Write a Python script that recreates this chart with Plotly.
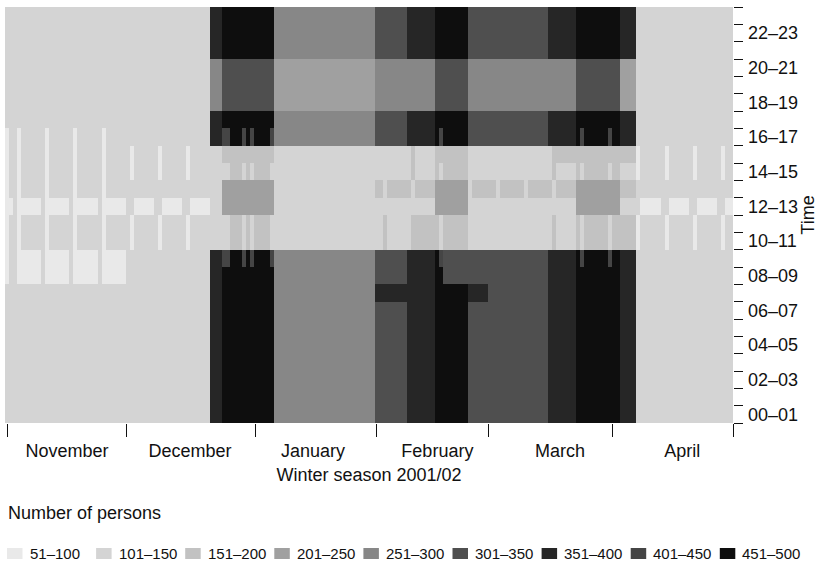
import numpy as np
import plotly.graph_objects as go

N_DAYS = 181
N_HOURS = 24

LEVEL_LABELS = ["51–100", "101–150", "151–200", "201–250", "251–300",
                "301–350", "351–400", "401–450", "451–500"]
LEVEL_COLORS = ["#e9e9e9", "#d4d4d4", "#c2c2c2", "#a0a0a0", "#878787",
                "#4f4f4f", "#262626", "#454545", "#0e0e0e"]
BASE_LEVEL = 2

MONTHS = ["November", "December", "January", "February", "March", "April"]
MONTH_CENTERS = [15.4, 46.0, 76.6, 107.5, 138.0, 168.4]
MONTH_EDGES = [0.5, 30.3, 62.2, 92.3, 120.1, 151.0, 181.0]

HOUR_LABELS = ["00–01", "02–03", "04–05", "06–07", "08–09", "10–11",
               "12–13", "14–15", "16–17", "18–19", "20–21", "22–23"]
HOUR_LABEL_POS = [0.5, 2.5, 4.5, 6.5, 8.5, 10.5, 12.5, 14.5, 16.5, 18.5, 20.5, 22.5]
HOUR_EDGES = list(range(0, 25))

# season periods (day index from 1 Nov 2001, end exclusive)
PERIOD_START = [51, 54, 67, 92, 100, 107, 115, 135, 142, 153]
PERIOD_END = [54, 67, 92, 100, 107, 115, 135, 142, 153, 157]
LEVEL_NIGHT = [7, 9, 5, 6, 7, 9, 6, 7, 9, 7]      # hours 0-9, 16-17, 21-23
LEVEL_EVENING = [5, 6, 4, 5, 5, 6, 5, 5, 6, 4]    # hours 18-20

# extra rectangles: (day0, day1, hour0, hour1, level)
MIDDAY_BLOCKS = [
    (54, 67, 14, 16, 3), (54, 67, 12, 14, 4), (54, 67, 10, 12, 3),
    (107, 115, 14, 16, 3), (107, 115, 12, 14, 4), (107, 115, 10, 12, 3),
    (142, 153, 14, 16, 3), (142, 153, 12, 14, 4), (142, 153, 10, 12, 3),
    (137, 142, 15, 16, 3),
    (153, 157, 15, 16, 3), (153, 157, 13, 14, 3), (153, 157, 10, 12, 3),
    (102, 107, 10, 12, 3),
    (92, 94, 13, 14, 3), (95, 101, 13, 14, 3), (102, 107, 13, 14, 3),
    (116, 122, 13, 14, 3), (123, 129, 13, 14, 3), (130, 136, 13, 14, 3),
    (137, 142, 13, 14, 3),
    (109, 115, 8, 10, 6),
    (92, 107, 7, 8, 7), (115, 120, 7, 8, 7),
]

# weekday blocks outside the season
WEEKDAY_BLOCKS = [
    (1, 2, 12, 13, 1), (4, 9, 12, 13, 1), (11, 16, 12, 13, 1), (18, 23, 12, 13, 1),
    (25, 30, 12, 13, 1), (32, 37, 12, 13, 1), (39, 44, 12, 13, 1), (46, 51, 12, 13, 1),
    (158, 163, 12, 13, 1), (165, 170, 12, 13, 1), (172, 177, 12, 13, 1),
    (179, 181, 12, 13, 1),
    (4, 9, 8, 10, 1), (11, 16, 8, 10, 1), (18, 23, 8, 10, 1), (25, 30, 8, 10, 1),
]

# Sundays / holidays: (day, hour0, hour1, level)
DAY_STRIPES = [
    (0, 8, 17, 1), (3, 8, 17, 1), (10, 8, 17, 1), (17, 8, 17, 1), (24, 8, 17, 1),
    (31, 10, 12, 1), (31, 14, 16, 1), (38, 10, 12, 1), (38, 14, 16, 1),
    (45, 10, 12, 1), (45, 14, 16, 1),
    (157, 10, 12, 1), (157, 14, 16, 1), (164, 10, 12, 1), (164, 14, 16, 1),
    (171, 10, 12, 1), (171, 14, 16, 1), (178, 10, 12, 1), (178, 14, 16, 1),
    (94, 10, 12, 3), (101, 10, 12, 3), (101, 14, 16, 3), (136, 10, 12, 3), (136, 14, 16, 3),
]
HOLIDAY_DAYS = [54, 55, 59, 61, 66, 108, 143, 150]
HOLIDAY_HOURS = [9, 16]
HOLIDAY_HOUR_LEVEL = 8
HOLIDAY_MIDDAY_HOURS = [10, 11, 14]
HOLIDAY_MIDDAY_LEVEL = 2

# ---- build grid ----
z = np.full((N_HOURS, N_DAYS), BASE_LEVEL, dtype=int)
for s, e, ln, le in zip(PERIOD_START, PERIOD_END, LEVEL_NIGHT, LEVEL_EVENING):
    z[0:10, s:e] = ln
    z[16:18, s:e] = ln
    z[21:24, s:e] = ln
    z[18:21, s:e] = le
for d0, d1, h0, h1, lv in MIDDAY_BLOCKS + WEEKDAY_BLOCKS:
    z[h0:h1, d0:d1] = lv
for d, h0, h1, lv in DAY_STRIPES:
    z[h0:h1, d] = lv
for d in HOLIDAY_DAYS:
    for h in HOLIDAY_HOURS:
        z[h, d] = HOLIDAY_HOUR_LEVEL
    for h in HOLIDAY_MIDDAY_HOURS:
        z[h, d] = HOLIDAY_MIDDAY_LEVEL

n = len(LEVEL_COLORS)
colorscale = []
for i, c in enumerate(LEVEL_COLORS):
    colorscale.append([i / n, c])
    colorscale.append([(i + 1) / n, c])

FONT = "Liberation Sans, Arial, Helvetica, sans-serif"

# layout geometry (pixels)
W, H = 825, 564
ML, MR, MT, MB = 5, 92, 7, 141
PW, PH = W - ML - MR, H - MT - MB


def px_x(px):
    return (px - ML) / PW


def px_y(py):
    return (H - MB - py) / PH


fig = go.Figure()
fig.add_trace(go.Heatmap(
    z=z, x=np.arange(N_DAYS) + 0.5, y=np.arange(N_HOURS) + 0.5,
    colorscale=colorscale, zmin=0.5, zmax=n + 0.5, showscale=False,
    hoverinfo="skip", showlegend=False,
))

# legend (drawn below the chart, one row)
shapes = []
annotations = [dict(
    text="Number of persons", xref="paper", yref="paper",
    x=px_x(6), y=px_y(513), xanchor="left", yanchor="middle",
    showarrow=False, font=dict(size=18),
)]
LEG_X0, LEG_STEP, LEG_Y = 7, 89.1, 553.5
for i, (lab, col) in enumerate(zip(LEVEL_LABELS, LEVEL_COLORS)):
    x0 = LEG_X0 + i * LEG_STEP
    shapes.append(dict(
        type="rect", xref="paper", yref="paper",
        x0=px_x(x0), x1=px_x(x0 + 15.5), y0=px_y(LEG_Y - 5.5), y1=px_y(LEG_Y + 5.5),
        fillcolor=col, line=dict(width=0),
    ))
    annotations.append(dict(
        text=lab, xref="paper", yref="paper", x=px_x(x0 + 20.5), y=px_y(LEG_Y),
        xanchor="left", yanchor="middle", showarrow=False, font=dict(size=15),
    ))

fig.update_layout(
    width=W, height=H,
    margin=dict(l=ML, r=MR, t=MT, b=MB, autoexpand=False),
    paper_bgcolor="white", plot_bgcolor="white",
    font=dict(family=FONT, size=18, color="#111111"),
    showlegend=False,
    xaxis=dict(
        range=[0, N_DAYS], showgrid=False, zeroline=False, showline=False,
        automargin=False,
        tickmode="array", tickvals=MONTH_CENTERS, ticktext=MONTHS, ticks="",
        ticklabelstandoff=15,
        minor=dict(tickmode="array", tickvals=MONTH_EDGES, ticks="outside",
                   ticklen=13, tickwidth=1, tickcolor="#111111", showgrid=False),
        title=dict(text="Winter season 2001/02", standoff=8, font=dict(size=18)),
        fixedrange=True,
    ),
    yaxis=dict(
        range=[0, N_HOURS], side="right", showgrid=False, zeroline=False, showline=False,
        automargin=False,
        tickmode="array", tickvals=HOUR_LABEL_POS, ticktext=HOUR_LABELS, ticks="",
        ticklabelstandoff=14,
        minor=dict(tickmode="array", tickvals=HOUR_EDGES, ticks="outside",
                   ticklen=9, tickwidth=1, tickcolor="#111111", showgrid=False),
        title=dict(text="Time", standoff=2, font=dict(size=18)),
        fixedrange=True,
    ),
    shapes=shapes,
    annotations=annotations,
)

fig.write_html(
    "out.html",
    config={"displayModeBar": False},
    post_script="document.body.style.margin='0';document.body.style.overflow='hidden';",
)
